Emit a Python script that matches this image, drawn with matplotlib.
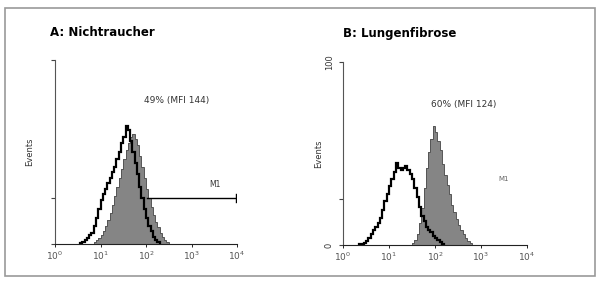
import numpy as np
import matplotlib
matplotlib.use("Agg")
import matplotlib.pyplot as plt
from matplotlib.patches import Rectangle

# ---- data (log10 fluorescence bin starts, bin width 0.05 decade; counts on 0-100 scale) ----
bin_width = 0.05
A_gray_bins = [0.85, 0.9, 0.95, 1.0, 1.05, 1.1, 1.15, 1.2, 1.25, 1.3, 1.35, 1.4, 1.45, 1.5, 1.55, 1.6,
               1.65, 1.7, 1.75, 1.8, 1.85, 1.9, 1.95, 2.0, 2.05, 2.1, 2.15, 2.2, 2.25, 2.3, 2.35, 2.4, 2.45]
A_gray_vals = [1, 2, 3, 5, 7, 10, 13, 17, 21, 26, 31, 36, 41, 46, 51, 55,
               58, 60, 57, 54, 48, 42, 36, 30, 25, 20, 16, 12, 9, 6, 4, 2, 1]
A_black_bins = [0.55, 0.6, 0.65, 0.7, 0.75, 0.8, 0.85, 0.9, 0.95, 1.0, 1.05, 1.1, 1.15, 1.2, 1.25, 1.3,
                1.35, 1.4, 1.45, 1.5, 1.55, 1.6, 1.65, 1.7, 1.75, 1.8, 1.85, 1.9, 1.95, 2.0, 2.05, 2.1,
                2.15, 2.2, 2.25]
A_black_vals = [0.5, 1, 2, 3, 5, 6, 10, 14, 19, 24, 27, 30, 33, 36, 39, 42,
                46, 50, 55, 58, 64, 62, 56, 50, 44, 38, 31, 25, 19, 14, 10, 7,
                4, 2, 1]
B_gray_bins = [1.5, 1.55, 1.6, 1.65, 1.7, 1.75, 1.8, 1.85, 1.9, 1.95, 2.0, 2.05, 2.1, 2.15, 2.2, 2.25,
               2.3, 2.35, 2.4, 2.45, 2.5, 2.55, 2.6, 2.65, 2.7, 2.75]
B_gray_vals = [1, 3, 6, 12, 20, 31, 42, 51, 58, 65, 62, 57, 52, 44, 38, 33,
               28, 22, 18, 14, 11, 8, 6, 4, 2, 1]
B_black_bins = [0.35, 0.4, 0.45, 0.5, 0.55, 0.6, 0.65, 0.7, 0.75, 0.8, 0.85, 0.9, 0.95, 1.0, 1.05, 1.1,
                1.15, 1.2, 1.25, 1.3, 1.35, 1.4, 1.45, 1.5, 1.55, 1.6, 1.65, 1.7, 1.75, 1.8, 1.85, 1.9,
                1.95, 2.0, 2.05, 2.1, 2.15]
B_black_vals = [0.3, 0.5, 1, 2, 4, 6, 8, 10, 12, 15, 19, 24, 28, 32, 36, 40,
                45, 42, 41, 42, 43, 41, 39, 36, 31, 26, 21, 16, 13, 10, 8, 7,
                5, 4, 3, 1.5, 0.5]

xtick_exps = [0, 1, 2, 3, 4]
titles = ["A: Nichtraucher", "B: Lungenfibrose"]
annots = ["49% (MFI 144)", "60% (MFI 124)"]
ylabel = "Events"
marker_label = "M1"

fig = plt.figure(figsize=(6, 2.81), dpi=100)
fig.patches.append(Rectangle((5/600, 1-276/281), 590/600, 268/281, transform=fig.transFigure,
                             fill=False, edgecolor="#9a9a9a", linewidth=1.2))

axA = fig.add_axes([55/600, 1-244/281, 182/600, 184/281])
axB = fig.add_axes([343/600, 1-245/281, 184/600, 183/281])

def edges(bins):
    return [10 ** b for b in bins] + [10 ** (bins[-1] + bin_width)]

def draw(ax, gb, gv, bb, bv):
    ax.stairs(gv, edges(gb), fill=True, color="#858585", zorder=2)
    ax.stairs(gv, edges(gb), color="#555555", linewidth=0.7, zorder=3)
    ax.stairs(bv, edges(bb), color="black", linewidth=1.6, zorder=4)
    ax.set_xscale("log")
    ax.set_xlim(1, 1e4)
    ax.set_ylim(0, 100)
    for s in ["top", "right"]:
        ax.spines[s].set_visible(False)
    ax.spines["left"].set_color("#555555")
    ax.spines["bottom"].set_color("#222222")
    ax.set_xticks([10 ** e for e in xtick_exps])
    ax.set_xticklabels([r"$10^{%d}$" % e for e in xtick_exps], fontsize=6.5, color="#555555")
    ax.xaxis.set_minor_locator(matplotlib.ticker.NullLocator())
    ax.tick_params(axis="x", length=2, width=0.6, pad=2)
    ax.set_yticks([0, 25, 100])
    ax.tick_params(axis="y", length=3, width=0.8, color="#444444")
    ax.patch.set_alpha(0)

draw(axA, A_gray_bins, A_gray_vals, A_black_bins, A_black_vals)
draw(axB, B_gray_bins, B_gray_vals, B_black_bins, B_black_vals)

axA.set_yticklabels(["", "", ""])
axB.set_yticklabels(["0", "", "100"], fontsize=6, rotation=90, va="center", color="#333333")

axA.set_ylabel(ylabel, fontsize=6, color="#333333")
axB.set_ylabel(ylabel, fontsize=6, color="#333333")
axA.yaxis.set_label_coords(-0.115, 0.5)
axB.yaxis.set_label_coords(-0.11, 0.5)

fig.text(50/600, 1-33/281, titles[0], fontsize=8.5, fontweight="bold", va="center", ha="left")
fig.text(343/600, 1-33/281, titles[1], fontsize=8.5, fontweight="bold", va="center", ha="left")

axA.text(0.49, 0.78, annots[0], transform=axA.transAxes, fontsize=6.5, color="#333333", ha="left", va="center")
axB.text(0.48, 0.77, annots[1], transform=axB.transAxes, fontsize=6.5, color="#333333", ha="left", va="center")

# M1 marker in panel A
axA.plot([10 ** 2.02, 10 ** 3.98], [25, 25], color="black", linewidth=1.0, zorder=5)
axA.plot([10 ** 3.98, 10 ** 3.98], [23, 27], color="black", linewidth=1.0, zorder=5)
axA.text(10 ** 3.4, 30, marker_label, fontsize=5.5, color="#333333", ha="left", va="bottom")
axB.text(10 ** 3.38, 36, marker_label, fontsize=5, color="#666666", ha="left", va="center")

fig.savefig("out.png", dpi=100)
